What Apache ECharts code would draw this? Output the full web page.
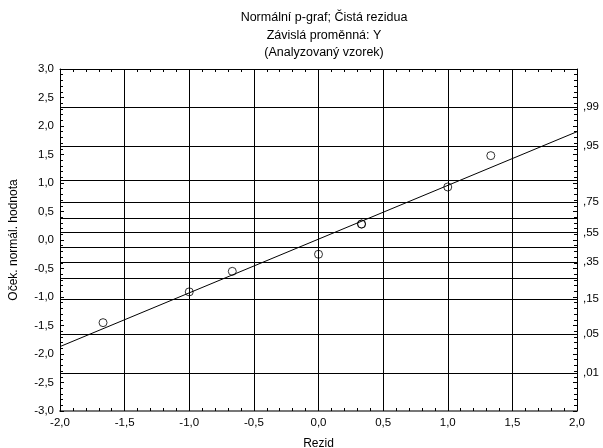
<!DOCTYPE html>
<html>
<head>
<meta charset="utf-8">
<script src="https://cdn.jsdelivr.net/npm/echarts@6/dist/echarts.min.js"></script>
<style>
  html, body { margin: 0; padding: 0; background: #fff; }
  #chart { width: 603px; height: 448px; }
</style>
</head>
<body>
<div id="chart"></div>
<script>
// rezidua (x) a očekávané normální hodnoty (y)
const residuals = [-1.667, -1.0, -0.667, 0.0, 0.333, 0.333, 1.0, 1.333];
const expectedNormal = [-1.45, -0.91, -0.55, -0.25, 0.28, 0.28, 0.93, 1.48];
// proložená přímka – koncové body
const fitX = [-2.0, 2.0];
const fitY = [-1.87, 1.90];
// pravá osa – kvantily normálního rozdělení a jejich popisky
const probTicks = [-2.326, -1.645, -1.036, -0.674, -0.385, -0.126, 0.126, 0.385, 0.674, 1.036, 1.645, 2.326];
const probLabels = [',01', ',05', ',15', '', ',35', '', ',55', '', ',75', '', ',95', ',99'];

const FONT = 'Liberation Sans, Arial, sans-serif';
const fmt = v => v.toFixed(1).replace('.', ',');

const chart = echarts.init(document.getElementById('chart'));

const tickStyle = { inside: true, length: 4, lineStyle: { color: '#000' } };
const minorStyle = { show: true, splitNumber: 5, length: 3, lineStyle: { color: '#000' } };

const option = {
  animation: false,
  textStyle: { fontFamily: FONT, color: '#000' },
  title: {
    text: 'Normální p-graf; Čistá rezidua\nZávislá proměnná: Y\n(Analyzovaný vzorek)',
    left: 319,
    top: 4,
    textAlign: 'center',
    textStyle: { fontFamily: FONT, fontSize: 12.5, fontWeight: 'normal', color: '#000', lineHeight: 17.5 }
  },
  grid: { left: 60, right: 26, top: 69, bottom: 37, containLabel: false, outerBoundsMode: 'none' },
  xAxis: [
    {
      type: 'value', position: 'bottom',
      min: -2, max: 2, interval: 0.5,
      name: 'Rezid', nameLocation: 'middle', nameGap: 27,
      nameTextStyle: { fontFamily: FONT, fontSize: 12, color: '#000' },
      axisLine: { onZero: false, lineStyle: { color: '#777', width: 2 } },
      axisTick: tickStyle,
      minorTick: minorStyle,
      axisLabel: { formatter: fmt, fontSize: 11.5, color: '#000', margin: 6, fontFamily: FONT },
      splitLine: { show: true, lineStyle: { color: '#000', width: 1 } }
    },
    {
      type: 'value', position: 'top',
      min: -2, max: 2, interval: 0.5,
      axisLine: { onZero: false, lineStyle: { color: '#000', width: 1 } },
      axisTick: tickStyle,
      minorTick: minorStyle,
      axisLabel: { show: false },
      splitLine: { show: false }
    }
  ],
  yAxis: [
    {
      type: 'value', position: 'left',
      min: -3, max: 3, interval: 0.5,
      name: 'Oček. normál. hodnota', nameLocation: 'middle', nameGap: 40,
      nameTextStyle: { fontFamily: FONT, fontSize: 12, color: '#000' },
      axisLine: { onZero: false, lineStyle: { color: '#000', width: 1 } },
      axisTick: tickStyle,
      minorTick: minorStyle,
      axisLabel: { formatter: fmt, fontSize: 11.5, color: '#000', margin: 6, fontFamily: FONT },
      splitLine: { show: false }
    },
    {
      type: 'value', position: 'right',
      min: -3, max: 3, interval: 0.5,
      axisLine: { onZero: false, lineStyle: { color: '#000', width: 1 } },
      axisTick: tickStyle,
      minorTick: minorStyle,
      axisLabel: { show: false },
      splitLine: { show: false }
    }
  ],
  series: [
    {
      name: 'fit',
      type: 'line',
      xAxisIndex: 0, yAxisIndex: 0,
      data: fitX.map((x, i) => [x, fitY[i]]),
      showSymbol: false,
      lineStyle: { color: '#000', width: 1 },
      z: 3,
      markLine: {
        silent: true,
        symbol: 'none',
        lineStyle: { color: '#000', width: 1, type: 'solid' },
        label: { show: true, position: 'end', distance: 6, fontFamily: FONT, fontSize: 11.5, color: '#000' },
        data: probTicks.map((v, i) => ({ yAxis: v, label: { formatter: probLabels[i] } }))
      }
    },
    {
      name: 'rezidua',
      type: 'scatter',
      xAxisIndex: 0, yAxisIndex: 0,
      data: residuals.map((x, i) => [x, expectedNormal[i]]),
      symbol: 'circle',
      symbolSize: 8,
      itemStyle: { color: 'rgba(255,255,255,0)', borderColor: '#000', borderWidth: 1 },
      z: 4
    }
  ]
};

chart.setOption(option);
</script>
</body>
</html>
